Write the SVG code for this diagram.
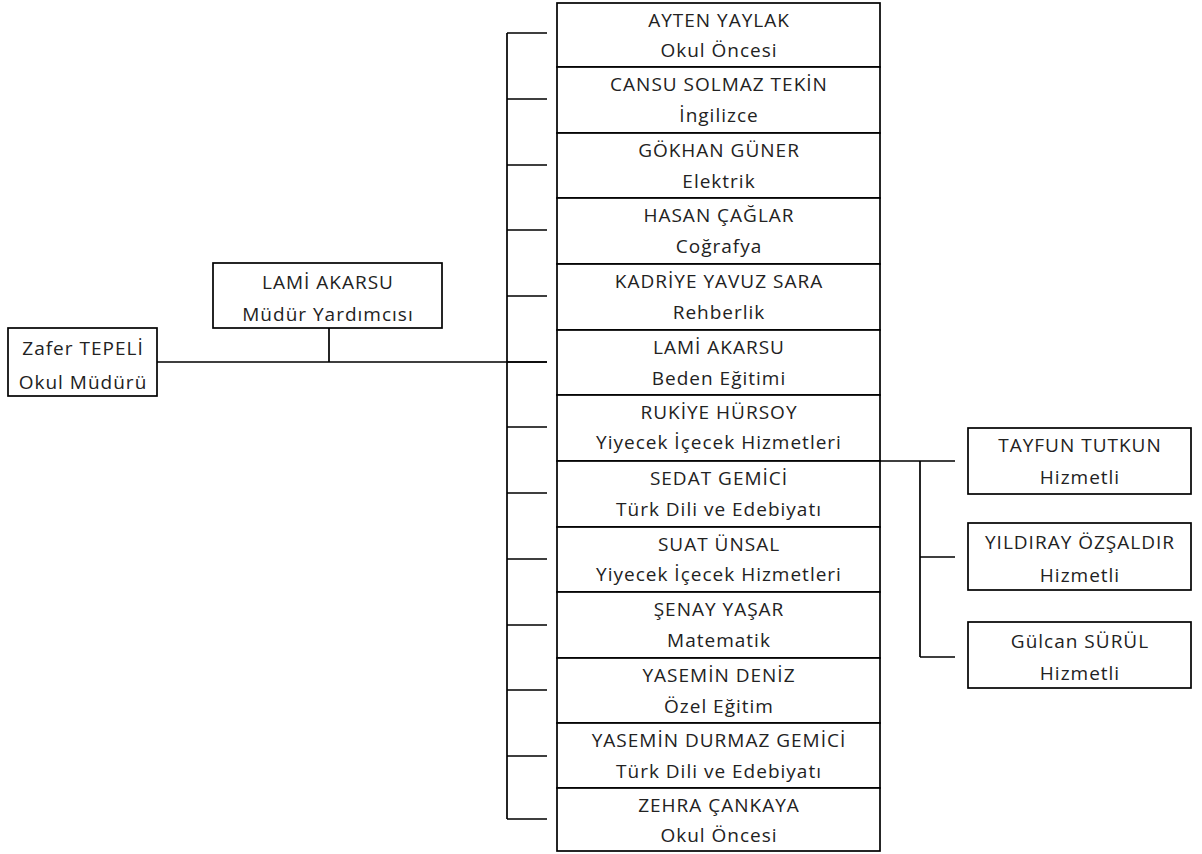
<svg xmlns="http://www.w3.org/2000/svg" width="1202" height="854" viewBox="0 0 1202 854">
<style>
.b{fill:#fff;stroke:#000;stroke-width:1.7}
.l{fill:none;stroke:#000;stroke-width:1.7}
text{font-family:"Open Sans","Liberation Sans",sans-serif;font-size:19px;letter-spacing:1px;fill:#222;text-anchor:middle}
</style>
<rect width="1202" height="854" fill="#fff"/>
<g id="connectors" class="l">
<path d="M157,362H547M329,328V362"/>
<path d="M507,33V819M507,33H547M507,99H547M507,165H547M507,230H547M507,296H547M507,362H547M507,427H547M507,493H547M507,559H547M507,625H547M507,690H547M507,756H547M507,819H547"/>
<path d="M880,461H955M920,461V657M920,557H955M920,657H955"/>
</g>
<g id="n-zafer"><rect class="b" x="8" y="328" width="149" height="68"/><text x="83" y="355">Zafer TEPELİ</text><text x="83" y="389">Okul Müdürü</text></g>
<g id="n-lami-md"><rect class="b" x="213" y="263" width="229" height="65"/><text x="328" y="289">LAMİ AKARSU</text><text x="328" y="321">Müdür Yardımcısı</text></g>
<g id="n1"><rect class="b" x="557" y="3" width="323" height="64"/><text x="719" y="27">AYTEN YAYLAK</text><text x="719" y="57">Okul Öncesi</text></g>
<g id="n2"><rect class="b" x="557" y="67" width="323" height="66"/><text x="719" y="91">CANSU SOLMAZ TEKİN</text><text x="719" y="122">İngilizce</text></g>
<g id="n3"><rect class="b" x="557" y="133" width="323" height="65"/><text x="719" y="157">GÖKHAN GÜNER</text><text x="719" y="188">Elektrik</text></g>
<g id="n4"><rect class="b" x="557" y="198" width="323" height="66"/><text x="719" y="222">HASAN ÇAĞLAR</text><text x="719" y="253">Coğrafya</text></g>
<g id="n5"><rect class="b" x="557" y="264" width="323" height="66"/><text x="719" y="288">KADRİYE YAVUZ SARA</text><text x="719" y="319">Rehberlik</text></g>
<g id="n6"><rect class="b" x="557" y="330" width="323" height="65"/><text x="719" y="354">LAMİ AKARSU</text><text x="719" y="385">Beden Eğitimi</text></g>
<g id="n7"><rect class="b" x="557" y="395" width="323" height="66"/><text x="719" y="419">RUKİYE HÜRSOY</text><text x="719" y="449">Yiyecek İçecek Hizmetleri</text></g>
<g id="n8"><rect class="b" x="557" y="461" width="323" height="66"/><text x="719" y="485">SEDAT GEMİCİ</text><text x="719" y="516">Türk Dili ve Edebiyatı</text></g>
<g id="n9"><rect class="b" x="557" y="527" width="323" height="65"/><text x="719" y="551">SUAT ÜNSAL</text><text x="719" y="581">Yiyecek İçecek Hizmetleri</text></g>
<g id="n10"><rect class="b" x="557" y="592" width="323" height="66"/><text x="719" y="616">ŞENAY YAŞAR</text><text x="719" y="647">Matematik</text></g>
<g id="n11"><rect class="b" x="557" y="658" width="323" height="65"/><text x="719" y="682">YASEMİN DENİZ</text><text x="719" y="713">Özel Eğitim</text></g>
<g id="n12"><rect class="b" x="557" y="723" width="323" height="65"/><text x="719" y="747">YASEMİN DURMAZ GEMİCİ</text><text x="719" y="778">Türk Dili ve Edebiyatı</text></g>
<g id="n13"><rect class="b" x="557" y="788" width="323" height="63"/><text x="719" y="812">ZEHRA ÇANKAYA</text><text x="719" y="842">Okul Öncesi</text></g>
<g id="r1"><rect class="b" x="968" y="428" width="223" height="66"/><text x="1080" y="452">TAYFUN TUTKUN</text><text x="1080" y="484">Hizmetli</text></g>
<g id="r2"><rect class="b" x="968" y="523" width="223" height="67"/><text x="1080" y="549">YILDIRAY ÖZŞALDIR</text><text x="1080" y="582">Hizmetli</text></g>
<g id="r3"><rect class="b" x="968" y="622" width="223" height="66"/><text x="1080" y="648">Gülcan SÜRÜL</text><text x="1080" y="680">Hizmetli</text></g>
</svg>
